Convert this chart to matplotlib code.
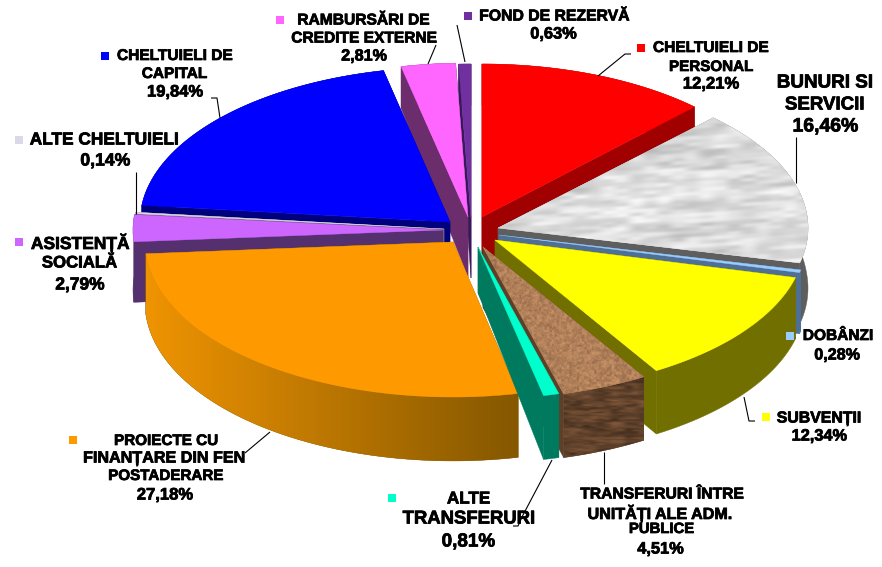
import numpy as np
import matplotlib
matplotlib.use("Agg")
import matplotlib.pyplot as plt
from matplotlib.colors import to_rgb
from matplotlib.patches import Polygon, Rectangle
import matplotlib.patheffects as pe

# ---------- data ----------
categories = ["CHELTUIELI DE PERSONAL", "BUNURI SI SERVICII", "DOBÂNZI", "SUBVENȚII",
              "TRANSFERURI ÎNTRE UNITĂȚI ALE ADM. PUBLICE", "ALTE TRANSFERURI",
              "PROIECTE CU FINANȚARE DIN FEN POSTADERARE", "ASISTENȚĂ SOCIALĂ",
              "ALTE CHELTUIELI", "CHELTUIELI DE CAPITAL",
              "RAMBURSĂRI DE CREDITE EXTERNE", "FOND DE REZERVĂ"]
values = [12.21, 16.46, 0.28, 12.34, 4.51, 0.81, 27.18, 2.79, 0.14, 19.84, 2.81, 0.63]

# ---------- style ----------
top_colors = ["#FF0000", "#D8D8D8", "#99CCFF", "#FFFF00", "#B08058", "#00FFCC",
              "#FF9900", "#CC66FF", "#DDD8E8", "#0000FF", "#FF66FF", "#7030A0"]
wall_colors = ["#A00000", "#5E5E5E", "#4F6F94", "#706F00", "#5E4028", "#007A5E",
               "#8B5A00", "#55306F", "#777777", "#00007F", "#6B2D6B", "#38185A"]
apex_x = [482, 498, 499, 495, 483, 478, 453, 443, 444, 450, 468, 471]
apex_y = [217, 228, 235, 240, 247, 247, 242, 230, 229, 222, 217, 218]
rad_x = [306, 310, 310, 310, 309, 310, 308, 310, 310, 310, 312, 312]
rad_y = [153, 153, 153, 153, 152, 152, 155, 155, 155, 155, 154, 154]
apex_depth = [None, None, None, None, None, 46, None, None, None, None, None, None]
draw_order = [11, 10, 0, 9, 8, 7, 1, 2, 3, 6, 4, 5]

# text, left, right, y of every label line
label_lines = [
    ("CHELTUIELI DE", 653, 768, 48), ("PERSONAL", 669, 753, 67), ("12,21%", 679, 743, 84),
    ("BUNURI SI", 777, 873, 83), ("SERVICII", 785, 864, 105), ("16,46%", 788, 863, 127),
    ("DOBÂNZI", 803, 873, 336), ("0,28%", 811, 863, 355),
    ("SUBVENȚII", 777, 861, 418), ("12,34%", 788, 851, 436),
    ("TRANSFERURI ÎNTRE", 580, 743, 494), ("UNITĂȚI ALE ADM.", 588, 732, 513),
    ("PUBLICE", 629, 694, 529), ("4,51%", 634, 687, 549),
    ("ALTE", 447, 490, 499), ("TRANSFERURI", 403, 535, 519), ("0,81%", 438, 499, 542),
    ("PROIECTE CU", 114, 218, 441), ("FINANȚARE DIN FEN", 84, 245, 458),
    ("POSTADERARE", 108, 223, 476), ("27,18%", 133, 197, 495),
    ("ASISTENȚĂ", 31, 129, 243), ("SOCIALĂ", 42, 117, 263), ("2,79%", 52, 108, 285),
    ("ALTE CHELTUIELI", 30, 178, 140), ("0,14%", 77, 134, 161),
    ("CHELTUIELI DE", 117, 232, 56), ("CAPITAL", 142, 207, 74), ("19,84%", 143, 207, 92),
    ("RAMBURSĂRI DE", 297, 429, 20), ("CREDITE EXTERNE", 291, 436, 38), ("2,81%", 338, 390, 56),
    ("FOND DE REZERVĂ", 479, 629, 16), ("0,63%", 527, 580, 34),
]
legend_keys = [(641, 48, "#FF0000"), (790, 336, "#99CCFF"), (766, 417, "#FFFF00"),
               (392, 498, "#00FFCC"), (73, 440, "#FF9900"), (19, 242, "#CC66FF"),
               (19, 140, "#DDD8E8"), (105, 56, "#0000FF"), (280, 20, "#FF66FF"),
               (468, 16, "#7030A0")]
leaders = [
    ([211, 217, 220], [98, 98, 118]),
    ([136, 136], [172, 214]),
    ([436, 428], [45, 64]),
    ([457, 465], [25, 62]),
    ([631, 625, 598], [54, 54, 76]),
    ([796, 796], [137, 183]),
    ([744, 749, 755], [397, 421, 421]),
    ([604, 604], [452, 484]),
    ([552, 523, 518, 513], [460, 515, 526, 526]),
    ([270, 245], [432, 453]),
]

fig = plt.figure(figsize=(8.82, 5.67), dpi=100)
ax = fig.add_axes([0, 0, 1, 1])
ax.axis("off")
ax.set_xlim(0, 882)
ax.set_ylim(567, 0)


def depth(y):
    return np.interp(y, [60, 217, 400], [41, 60, 64])


def lattice(ix, iy):
    h = np.sin(ix * 12.9898 + iy * 78.233) * 43758.5453
    return h - np.floor(h)


def vnoise(xx, yy, sx, sy):
    u, v = xx / sx, yy / sy
    iu, iv = np.floor(u), np.floor(v)
    fu, fv = u - iu, v - iv
    fu, fv = fu * fu * (3 - 2 * fu), fv * fv * (3 - 2 * fv)
    return ((lattice(iu, iv) * (1 - fu) + lattice(iu + 1, iv) * fu) * (1 - fv)
            + (lattice(iu, iv + 1) * (1 - fu) + lattice(iu + 1, iv + 1) * fu) * fv) - 0.5


def grid(x0, x1, y0, y1):
    return np.meshgrid(np.arange(x0, x1, dtype=float), np.arange(y0, y1, dtype=float))


def marble(x0, x1, y0, y1):
    xx, yy = grid(x0, x1, y0, y1)
    tilt = yy + xx * 0.06
    n = (vnoise(xx, tilt, 34, 7) + 0.8 * vnoise(xx + 50, tilt + 7, 14, 3.5)
         + 0.5 * vnoise(xx, tilt + 3, 50, 14))
    g = 0.86 + 0.15 * n
    return np.dstack([g, g, g]).clip(0, 1)


def mottled(x0, x1, y0, y1, base, amp, sx, sy):
    xx, yy = grid(x0, x1, y0, y1)
    n = vnoise(xx, yy, sx, sy) + 0.7 * vnoise(xx + 9, yy + 5, sx / 2, sy / 2)
    f = 1 + amp * n
    return np.dstack([base[0] * f, base[1] * f, base[2] * f]).clip(0, 1)


def orange_ramp(x0, x1):
    f = np.clip((np.arange(x0, x1, dtype=float) - 150) / 370.0, 0, 1)[None, :, None]
    return np.array(to_rgb("#EE9302"))[None, None, :] * (1 - f) + np.array(to_rgb("#845700"))[None, None, :] * f


total = sum(values)
edges = np.cumsum([0] + values) / total * 2 * np.pi
z = 2


def arc(i, n=120):
    t = np.linspace(edges[i], edges[i + 1], n)
    return apex_x[i] + rad_x[i] * np.sin(t), apex_y[i] - rad_y[i] * np.cos(t)


for i in draw_order:
    x, y = arc(i)
    ax0, ay0 = apex_x[i], apex_y[i]
    d0 = apex_depth[i] if apex_depth[i] is not None else depth(ay0)
    d = depth(y)
    wc = wall_colors[i]
    # straight cut walls
    for k in (0, -1):
        ax.add_patch(Polygon([(ax0, ay0), (x[k], y[k]), (x[k], y[k] + d[k]), (ax0, ay0 + d0)],
                             closed=True, fc=wc, ec=wc, lw=0.3, zorder=z))
        z += 1
    # rim wall
    wall = Polygon(np.r_[np.c_[x, y], np.c_[x, y + d][::-1]], closed=True, fc=wc, ec=wc, lw=0.3, zorder=z)
    ax.add_patch(wall)
    z += 1
    if i == 6:
        im = ax.imshow(np.tile(orange_ramp(140, 525), (2, 1, 1)), extent=(140, 525, 470, 240),
                       aspect="auto", zorder=z, interpolation="bilinear")
        im.set_clip_path(wall)
        z += 1
    elif i == 4:
        im = ax.imshow(mottled(540, 660, 370, 470, (0.38, 0.26, 0.17), 0.45, 14, 3),
                       extent=(540, 660, 470, 370), aspect="auto", zorder=z)
        im.set_clip_path(wall)
        z += 1
    # top face
    top = Polygon(np.r_[[(ax0, ay0)], np.c_[x, y]], closed=True, fc=top_colors[i], ec=top_colors[i], lw=0.3, zorder=z)
    ax.add_patch(top)
    z += 1
    if i == 1:
        im = ax.imshow(marble(490, 815, 110, 275), extent=(490, 815, 275, 110), aspect="auto", zorder=z)
        im.set_clip_path(top)
        z += 1
    elif i == 4:
        im = ax.imshow(mottled(475, 650, 240, 400, (0.69, 0.50, 0.35), 0.22, 2.5, 2.5),
                       extent=(475, 650, 400, 240), aspect="auto", zorder=z)
        im.set_clip_path(top)
        z += 1

ax.set_xlim(0, 882)
ax.set_ylim(567, 0)

for lx, ly in leaders:
    ax.plot(lx, ly, color="black", lw=0.8, zorder=z, solid_capstyle="butt")
z += 1

renderer = fig.canvas.get_renderer()
for line, x0, x1, yy in label_lines:
    t = ax.text((x0 + x1) / 2, yy, line, ha="center", va="center", fontsize=10, fontweight="bold",
                family="Liberation Sans", color="black", zorder=z,
                path_effects=[pe.withStroke(linewidth=0.55, foreground="black")])
    w = t.get_window_extent(renderer).width
    fit = 10 * (x1 - x0) / w
    t.set_fontsize(fit * 0.88 if line.endswith("%") else fit)

for kx, ky, kc in legend_keys:
    ax.add_patch(Rectangle((kx - 4, ky - 4), 8, 8, fc=kc, ec="none", zorder=z))

fig.savefig("out.png", dpi=100, facecolor="white")
